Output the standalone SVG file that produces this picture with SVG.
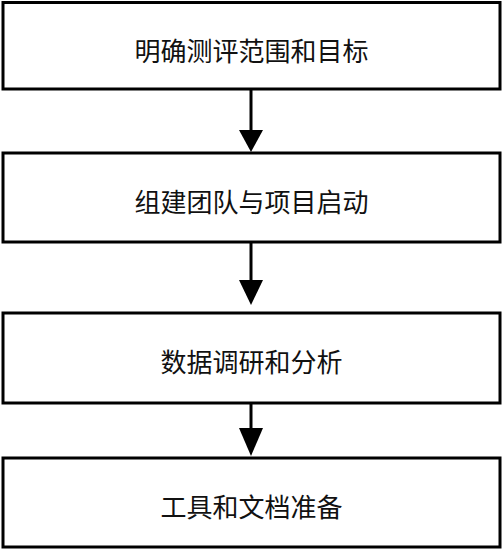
<svg xmlns="http://www.w3.org/2000/svg" width="503" height="549" viewBox="0 0 503 549">
<style>
.box{fill:#fff;stroke:#000;stroke-width:3}
.lbl{font-family:"Noto Sans CJK SC","Noto Sans",sans-serif;font-size:26px;fill:#111;text-anchor:middle;dominant-baseline:central}
.conn{stroke:#000;stroke-width:3;fill:none}
.head{fill:#000}
</style>
<rect width="503" height="549" fill="#fff"/>
<g id="n1"><rect class="box" x="3" y="2.5" width="497" height="86.5"/><text class="lbl" x="251.5" y="49">明确测评范围和目标</text></g>
<g id="n2"><rect class="box" x="3" y="153" width="497" height="89"/><text class="lbl" x="251.5" y="200">组建团队与项目启动</text></g>
<g id="n3"><rect class="box" x="3" y="313" width="497" height="90"/><text class="lbl" x="251.5" y="360">数据调研和分析</text></g>
<g id="n4"><rect class="box" x="3" y="458" width="497" height="89"/><text class="lbl" x="251.5" y="505">工具和文档准备</text></g>
<g id="connectors">
<line class="conn" x1="251" y1="89" x2="251" y2="132"/><polygon class="head" points="239,130 263,130 251,152"/>
<line class="conn" x1="251" y1="242" x2="251" y2="282"/><polygon class="head" points="239,280 263,280 251,305"/>
<line class="conn" x1="251" y1="403" x2="251" y2="430"/><polygon class="head" points="239,428 263,428 251,456"/>
</g>
</svg>
